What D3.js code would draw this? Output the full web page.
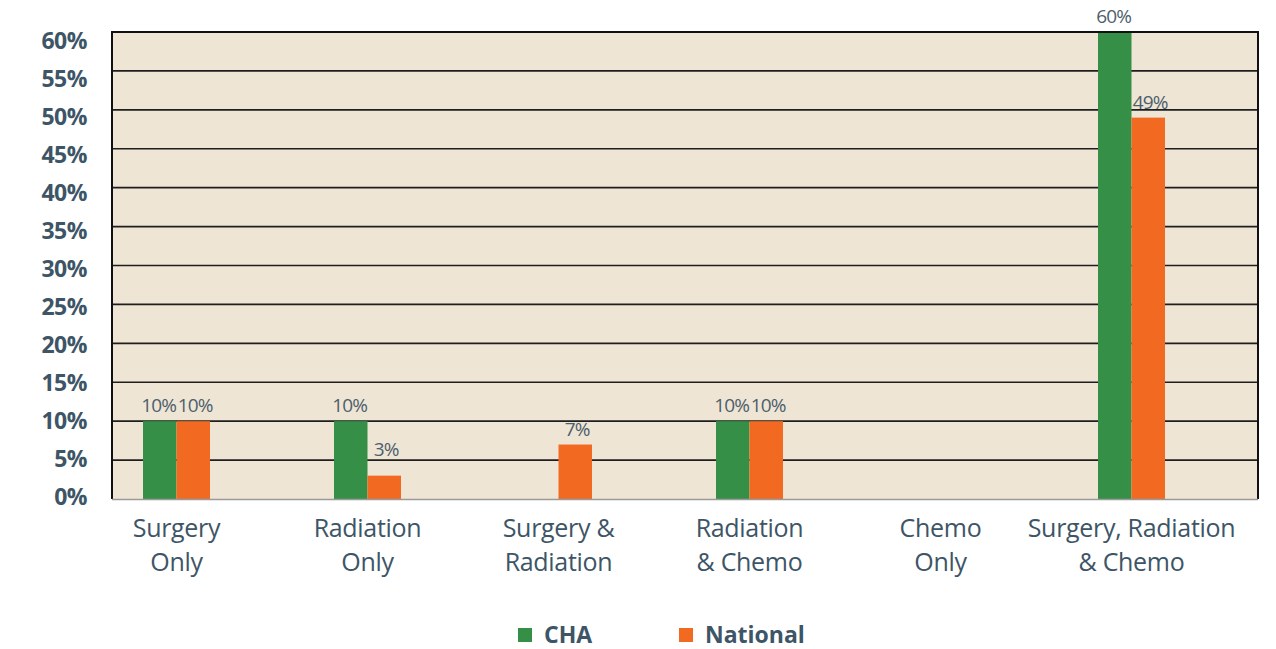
<!DOCTYPE html>
<head>
<meta charset="utf-8">
<style>
  body { margin:0; background:#fff; }
  .ytick { font-family:"Open Sans", sans-serif; font-weight:700; font-size:23px; fill:#3d5566; letter-spacing:-0.5px; }
  .xlab { font-family:"Open Sans", sans-serif; font-size:25px; fill:#3d5566; letter-spacing:-0.3px; }
  .val { font-family:"Open Sans", sans-serif; font-size:19px; fill:#4d5f6c; letter-spacing:-0.8px; }
  .leg { font-family:"Open Sans", sans-serif; font-weight:700; font-size:23px; fill:#3d5566; }
</style>
</head>
<body>
<script src="https://d3js.org/d3.v7.min.js"></script>
<script>

var categories = [["Surgery", "Only"], ["Radiation", "Only"], ["Surgery &", "Radiation"],
                  ["Radiation", "& Chemo"], ["Chemo", "Only"], ["Surgery, Radiation", "& Chemo"]];
var series = ["CHA", "National"];
var cha      = [10, 10, null, 10, null, 60];
var national = [10, 3, 7, 10, null, 49];
var yTicks = [0, 5, 10, 15, 20, 25, 30, 35, 40, 45, 50, 55, 60];
var colors = ["#368f46", "#f26a22"];

var width = 1276, height = 649;
var plot = {left:112, right:1258, top:32, bottom:499};

var svg = d3.select("body").append("svg")
    .attr("width", width)
    .attr("height", height);

var x = d3.scaleBand()
    .domain(d3.range(categories.length))
    .range([81, 1227])
    .padding(0);

var xs = d3.scaleBand()
    .domain(series)
    .range([-33.5, 33.5]);

var y = d3.scaleLinear()
    .domain([0, 60])
    .range([plot.bottom, plot.top]);

// tick labels sit on their own, slightly tighter spacing
var yLab = d3.scaleLinear()
    .domain([0, 60])
    .range([505, 49]);

// background
svg.append("rect")
    .attr("x", plot.left).attr("y", plot.top)
    .attr("width", plot.right - plot.left)
    .attr("height", plot.bottom - plot.top)
    .style("fill", "#efe5d5");

// grid lines
svg.selectAll(".grid")
    .data(yTicks.filter(function(d){ return d > 0; }))
    .enter().append("line")
    .attr("x1", plot.left).attr("x2", plot.right)
    .attr("y1", function(d){ return y(d); })
    .attr("y2", function(d){ return y(d); })
    .style("stroke", "#1e1e1e")
    .style("stroke-width", 1.6);

// y labels
svg.selectAll(".ytick")
    .data(yTicks).enter()
    .append("text")
    .attr("class", "ytick")
    .attr("x", 87)
    .attr("y", function(d){ return yLab(d); })
    .attr("text-anchor", "end")
    .text(function(d){ return d + "%"; });

var rows = categories.map(function(c, i){
  return [{s:0, i:i, v:cha[i]}, {s:1, i:i, v:national[i]}];
});

var groups = svg.selectAll(".grp")
    .data(rows).enter()
    .append("g")
    .attr("transform", function(d, i){ return "translate(" + (x(i) + x.bandwidth() / 2) + ",0)"; });

groups.selectAll("rect")
    .data(function(d){ return d.filter(function(e){ return e.v != null; }); })
    .enter().append("rect")
    .attr("x", function(d){ return xs(series[d.s]); })
    .attr("width", xs.bandwidth())
    .attr("y", function(d){ return y(d.v); })
    .attr("height", function(d){ return y(0) - y(d.v); })
    .style("fill", function(d){ return colors[d.s]; });

groups.selectAll(".val")
    .data(function(d){ return d.filter(function(e){ return e.v != null; }); })
    .enter().append("text")
    .attr("class", "val")
    .attr("x", function(d){ return xs(series[d.s]) + xs.bandwidth() / 2 + (d.s ? 2 : -1); })
    .attr("y", function(d){ return y(d.v) - (d.v < 5 ? 20 : 9); })
    .attr("text-anchor", "middle")
    .text(function(d){ return d.v + "%"; });

// frame
svg.append("path")
    .attr("d", "M" + plot.left + "," + plot.bottom + "V" + plot.top + "H" + plot.right + "V" + plot.bottom)
    .style("fill", "none")
    .style("stroke", "#111")
    .style("stroke-width", 2);
svg.append("line")
    .attr("x1", plot.left).attr("x2", plot.right)
    .attr("y1", plot.bottom + 0.5).attr("y2", plot.bottom + 0.5)
    .style("stroke", "#9a9a9a")
    .style("stroke-width", 1.5);

// x labels
var xl = svg.selectAll(".xlab")
    .data(categories).enter()
    .append("text")
    .attr("class", "xlab")
    .attr("text-anchor", "middle");
xl.append("tspan")
    .attr("x", function(d, i){ return x(i) + x.bandwidth() / 2; })
    .attr("y", 537)
    .text(function(d){ return d[0]; });
xl.append("tspan")
    .attr("x", function(d, i){ return x(i) + x.bandwidth() / 2; })
    .attr("y", 571)
    .text(function(d){ return d[1]; });

// legend
var legX = [518, 679];
var leg = svg.selectAll(".legitem")
    .data(series).enter()
    .append("g")
    .attr("transform", function(d, i){ return "translate(" + legX[i] + ",628)"; });
leg.append("rect")
    .attr("width", 14).attr("height", 14)
    .style("fill", function(d, i){ return colors[i]; });
leg.append("text")
    .attr("class", "leg")
    .attr("x", 26).attr("y", 15)
    .text(function(d){ return d; });

</script>
</body>
